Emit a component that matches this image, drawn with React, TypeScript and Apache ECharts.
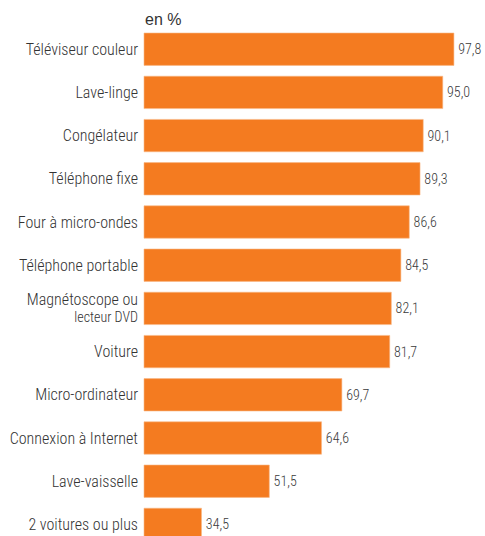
import React, { useEffect, useRef } from "react";
import * as echarts from "echarts";

const categories = [
  "Téléviseur couleur",
  "Lave-linge",
  "Congélateur",
  "Téléphone fixe",
  "Four à micro-ondes",
  "Téléphone portable",
  "Magnétoscope ou\nlecteur DVD",
  "Voiture",
  "Micro-ordinateur",
  "Connexion à Internet",
  "Lave-vaisselle",
  "2 voitures ou plus",
];
const values = [97.8, 95.0, 90.1, 89.3, 86.6, 84.5, 82.1, 81.7, 69.7, 64.6, 51.5, 34.5];
const unitLabel = "en %";

const FONT = "'Liberation Sans Narrow', 'Roboto Condensed', 'Arial Narrow', Roboto, sans-serif";

export default function App() {
  const ref = useRef<HTMLDivElement>(null);
  useEffect(() => {
    if (!ref.current) return;
    document.body.style.overflow = "hidden";
    document.documentElement.style.overflow = "hidden";
    const chart = echarts.init(ref.current, null, { renderer: "svg" });
    chart.setOption({
      animation: false,
      backgroundColor: "#ffffff",
      grid: { left: 144, top: 27.6, width: 319, height: 518.4, containLabel: false },
      xAxis: {
        type: "value",
        min: 20,
        max: 100,
        show: false,
      },
      yAxis: {
        type: "category",
        data: categories,
        inverse: true,
        axisLine: { show: false },
        axisTick: { show: false },
        splitLine: { show: false },
        axisLabel: {
          margin: 6,
          color: "#333333",
          fontFamily: FONT,
          fontSize: 16,
          fontWeight: 300,
          formatter: (v: string) => {
            const parts = v.split("\n");
            if (parts.length > 1) return `{a|${parts[0]}}\n{b|${parts[1]}}`;
            return `{a|${v}}`;
          },
          rich: {
            a: { fontFamily: FONT, fontSize: 16, fontWeight: 300, color: "#333333", lineHeight: 18, align: "right" },
            b: { fontFamily: FONT, fontSize: 14, fontWeight: 300, color: "#333333", lineHeight: 18, align: "right" },
          },
        },
      },
      graphic: [
        {
          type: "text",
          left: 145,
          top: 11,
          style: {
            text: unitLabel,
            fill: "#333333",
            font: "16px 'Liberation Sans', Arial, sans-serif",
          },
        },
      ],
      series: [
        {
          type: "bar",
          data: values,
          barWidth: 33,
          itemStyle: { color: "#F47B20", borderColor: "#F9B887", borderWidth: 0.6 },
          label: {
            show: true,
            position: "right",
            distance: 4,
            color: "#3a3a3a",
            fontFamily: FONT,
            fontSize: 14,
            fontWeight: 300,
            formatter: (p: any) => p.value.toFixed(1).replace(".", ","),
          },
        },
      ],
    });
    return () => chart.dispose();
  }, []);
  return (
    <div
      ref={ref}
      style={{ position: "fixed", left: 0, top: 0, width: 485, height: 560 }}
    />
  );
}
